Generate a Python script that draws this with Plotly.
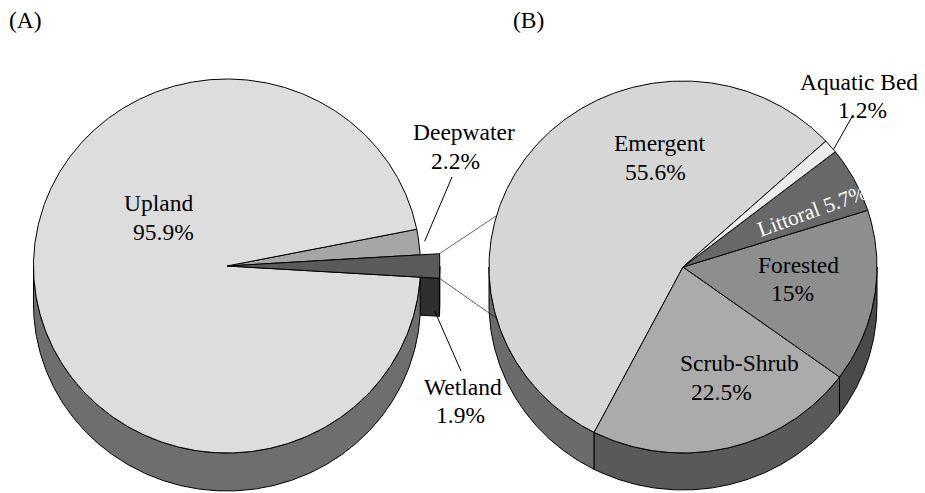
import numpy as np
import plotly.graph_objects as go

# ---------------- data ----------------
pie_a_labels = ["Wetland", "Deepwater", "Upland"]
pie_a_values = [1.9, 2.2, 95.9]
pie_b_labels = ["Emergent", "Scrub-Shrub", "Forested", "Littoral", "Aquatic Bed"]
pie_b_values = [55.6, 22.5, 15.0, 5.7, 1.2]
panel_titles = ["(A)", "(B)"]

# ---------------- layout / style constants ----------------
W, H = 925, 493
OFF = 8   # default page margin of the browser body
FONT = "Liberation Serif, Times New Roman, serif"
FS = 23.5
GA = dict(cx=227, cy=266, rx=193.5, ry=187, depth=38,
          start=-pie_a_values[0] / 100 * 180)   # wetland centred on the east
GB = dict(cx=683, cy=267, rx=194, ry=186, depth=37, start=42.6)

A_top = {"Upland": "#dddddd", "Deepwater": "#a6a6a6", "Wetland": "#5a5a5a"}
A_side = {"Upland": "#6e6e6e", "Deepwater": "#555555", "Wetland": "#2e2e2e"}
A_scale = {"Wetland": 1.1}
B_top = {"Emergent": "#d6d6d6", "Scrub-Shrub": "#ababab", "Forested": "#8e8e8e",
         "Littoral": "#686868", "Aquatic Bed": "#ececec"}
B_side = {"Emergent": "#6b6b6b", "Scrub-Shrub": "#595959", "Forested": "#4a4a4a",
          "Littoral": "#333333", "Aquatic Bed": "#777777"}

fig = go.Figure()


def pt(g, th, s=1.0, dy=0.0):
    r = np.radians(th)
    return g["cx"] + s * g["rx"] * np.cos(r), g["cy"] - s * g["ry"] * np.sin(r) + dy


def arc(g, a0, a1, s=1.0, dy=0.0):
    n = max(2, int(abs(a1 - a0) * 2) + 2)
    th = np.linspace(a0, a1, n)
    x, y = pt(g, th, s, dy)
    return list(x), list(y)


def poly(xs, ys, fill, lw=1.0):
    fig.add_trace(go.Scatter(x=xs + [xs[0]], y=ys + [ys[0]], mode="lines", fill="toself",
                             fillcolor=fill, line=dict(color="black", width=lw),
                             hoverinfo="skip", showlegend=False))


def slice_angles(values, start):
    tot = sum(values)
    out, a = [], start
    for v in values:
        b = a + v / tot * 360
        out.append((a, b))
        a = b
    return out


def side(g, a0, a1, color, s=1.0):
    for k in (-1, 0, 1):
        lo, hi = max(a0, 180 + 360 * k), min(a1, 360 + 360 * k)
        if hi > lo:
            x1, y1 = arc(g, lo, hi, s)
            x2, y2 = arc(g, hi, lo, s, g["depth"])
            poly(x1 + x2, y1 + y2, color)


def top(g, a0, a1, color, s=1.0):
    x, y = arc(g, a0, a1, s)
    poly([g["cx"]] + x, [g["cy"]] + y, color)


# ---------------- pie A ----------------
angA = dict(zip(pie_a_labels, slice_angles(pie_a_values, GA["start"])))
for lab in pie_a_labels:
    if lab in A_scale:
        a0, a1 = angA[lab]
        s = A_scale[lab]
        ox, oy = pt(GA, a0, s)
        d = GA["depth"]
        poly([GA["cx"], ox, ox, GA["cx"]], [GA["cy"], oy, oy + d, GA["cy"] + d], A_side[lab])
        side(GA, a0, a1, A_side[lab], s)
for lab in pie_a_labels:
    if lab not in A_scale:
        side(GA, *angA[lab], A_side[lab])
for lab in pie_a_labels:
    if lab not in A_scale:
        top(GA, *angA[lab], A_top[lab])
for lab in pie_a_labels:
    if lab in A_scale:
        top(GA, *angA[lab], A_top[lab], A_scale[lab])

# ---------------- pie B ----------------
angB = dict(zip(pie_b_labels, slice_angles(pie_b_values, GB["start"])))
for lab in pie_b_labels:
    side(GB, *angB[lab], B_side[lab])
for lab in pie_b_labels:
    top(GB, *angB[lab], B_top[lab])


def seg(p0, p1, lw=1.0):
    fig.add_trace(go.Scatter(x=[p0[0], p1[0]], y=[p0[1], p1[1]], mode="lines",
                             line=dict(color="black", width=lw),
                             hoverinfo="skip", showlegend=False))


# connector lines from the wetland slice to pie B
w0, w1 = angA["Wetland"]
sw = A_scale["Wetland"]
seg(pt(GA, w1, sw), pt(GB, 164), 0.6)
seg(pt(GA, w0, sw), pt(GB, 196), 0.6)

# leader lines
d0, d1 = angA["Deepwater"]
seg(pt(GA, (d0 + d1) / 2, 1.03), (452, 177))
wx, wy = pt(GA, w0, sw)
seg((wx - 5, wy + 0.85 * GA["depth"]), (461, 371))
q0, q1 = angB["Aquatic Bed"]
seg(pt(GB, q0 + 0.2 * (q1 - q0)), (853, 115))

# ---------------- text ----------------
def fmt(v):
    return f"{v:g}%"

valA = dict(zip(pie_a_labels, pie_a_values))
valB = dict(zip(pie_b_labels, pie_b_values))

label_pos = {
    "Upland": ((158, 203), (163, 232)),
    "Deepwater": ((464, 132), (455, 161)),
    "Wetland": ((463, 387), (460, 415)),
    "Emergent": ((659, 143), (655, 172)),
    "Aquatic Bed": ((859, 82), (862, 110)),
    "Forested": ((798, 265), (792, 293)),
    "Scrub-Shrub": ((739, 363), (721, 392)),
}
ann = []
for lab, (p_name, p_val) in label_pos.items():
    v = valA.get(lab, valB.get(lab))
    for txt, p in ((lab, p_name), (fmt(v), p_val)):
        ann.append(dict(x=p[0], y=p[1], xref="x", yref="y", text=txt, showarrow=False,
                        xanchor="center", yanchor="middle",
                        font=dict(family=FONT, size=FS, color="black")))
ann.append(dict(x=812, y=211, xref="x", yref="y", text=f"Littoral {fmt(valB['Littoral'])}",
                showarrow=False, textangle=-20, xanchor="center", yanchor="middle",
                font=dict(family=FONT, size=21.5, color="white")))
for t, x in zip(panel_titles, (25, 528)):
    ann.append(dict(x=x, y=OFF, xref="x", yref="y", text=t, showarrow=False,
                    xanchor="center", yanchor="top", yshift=3,
                    font=dict(family=FONT, size=FS, color="black")))

fig.update_layout(
    width=W - OFF, height=H - OFF, margin=dict(l=0, r=0, t=0, b=0),
    paper_bgcolor="white", plot_bgcolor="white",
    xaxis=dict(range=[OFF, W], visible=False, fixedrange=True),
    yaxis=dict(range=[H, OFF], visible=False, fixedrange=True),
    annotations=ann, showlegend=False,
)
fig.write_html("out.html")
